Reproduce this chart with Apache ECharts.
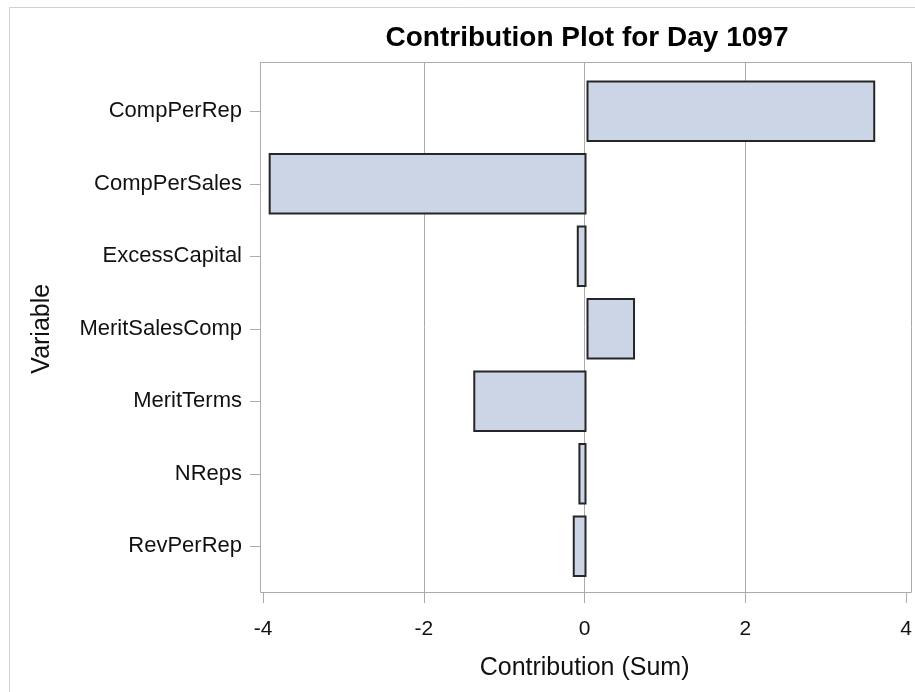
<!DOCTYPE html>
<html>
<head>
<meta charset="utf-8">
<script src="https://cdn.jsdelivr.net/npm/echarts@6/dist/echarts.min.js"></script>
<style>
html,body{margin:0;padding:0;background:#fff;}
#chart{width:915px;height:692px;}
</style>
</head>
<body>
<div id="chart"></div>
<script>
const categories = ['CompPerRep','CompPerSales','ExcessCapital','MeritSalesComp','MeritTerms','NReps','RevPerRep'];
const values = [3.57, -3.93, -0.12, 0.60, -1.40, -0.10, -0.17];
const xTicks = [-4, -2, 0, 2, 4];
const titleText = 'Contribution Plot for Day 1097';
const xName = 'Contribution (Sum)';
const yName = 'Variable';

const FONT = "'Liberation Sans', Arial, sans-serif";
const GRAY = '#ababab';
const chart = echarts.init(document.getElementById('chart'));

const xMin = xTicks[0], xMax = xTicks[xTicks.length - 1];
const xStep = xTicks[1] - xTicks[0];

chart.setOption({
  animation: false,
  backgroundColor: '#fff',
  graphic: [
    { type: 'rect', shape: { x: 9.5, y: 7.5, width: 1000, height: 1000 },
      style: { fill: 'none', stroke: '#d0d0d0', lineWidth: 1 }, z: 0 },
    { type: 'rect', shape: { x: 260.5, y: 62.5, width: 651, height: 530 },
      style: { fill: 'none', stroke: GRAY, lineWidth: 1 }, z: 0 },
    { type: 'text', x: 587, y: 38, z: 10,
      style: { text: titleText, font: "bold 28px " + FONT, fill: '#000',
               textAlign: 'center', textVerticalAlign: 'middle' } }
  ],
  grid: [
    { left: 263, right: 5, top: 75, bottom: 109.5 },
    { left: 263, right: 5, top: 62, bottom: 99 }
  ],
  xAxis: [
    { gridIndex: 0, type: 'value', min: xMin, max: xMax, interval: xStep, show: false,
      splitLine: { show: false } },
    { gridIndex: 1, type: 'value', min: xMin, max: xMax, interval: xStep,
      axisLine: { show: false, onZero: false },
      axisTick: { show: true, length: 10, lineStyle: { color: GRAY } },
      axisLabel: { margin: 26, fontSize: 21, fontFamily: FONT, color: '#111' },
      splitLine: { show: true, showMinLine: false, showMaxLine: false, lineStyle: { color: GRAY, width: 1 } },
      name: xName, nameLocation: 'middle', nameGap: 63,
      nameTextStyle: { fontSize: 25, fontFamily: FONT, color: '#111' } }
  ],
  yAxis: [
    { gridIndex: 0, type: 'category', data: categories, inverse: true, offset: 3,
      axisLine: { show: false, onZero: false },
      axisTick: { show: true, length: 10, alignWithLabel: true, lineStyle: { color: GRAY } },
      axisLabel: { margin: 18, fontSize: 22, fontFamily: FONT, color: '#111' },
      splitLine: { show: false },
      name: yName, nameLocation: 'middle', nameRotate: 90, nameGap: 205,
      nameTextStyle: { fontSize: 25, fontFamily: FONT, color: '#111' } },
    { gridIndex: 1, type: 'value', show: false, min: 0, max: 1 }
  ],
  series: [{
    type: 'bar', xAxisIndex: 0, yAxisIndex: 0,
    data: values,
    barCategoryGap: '15%',
    itemStyle: { color: '#cbd5e5', borderColor: '#262626', borderWidth: 2 },
    z: 5
  }]
});
</script>
</body>
</html>
